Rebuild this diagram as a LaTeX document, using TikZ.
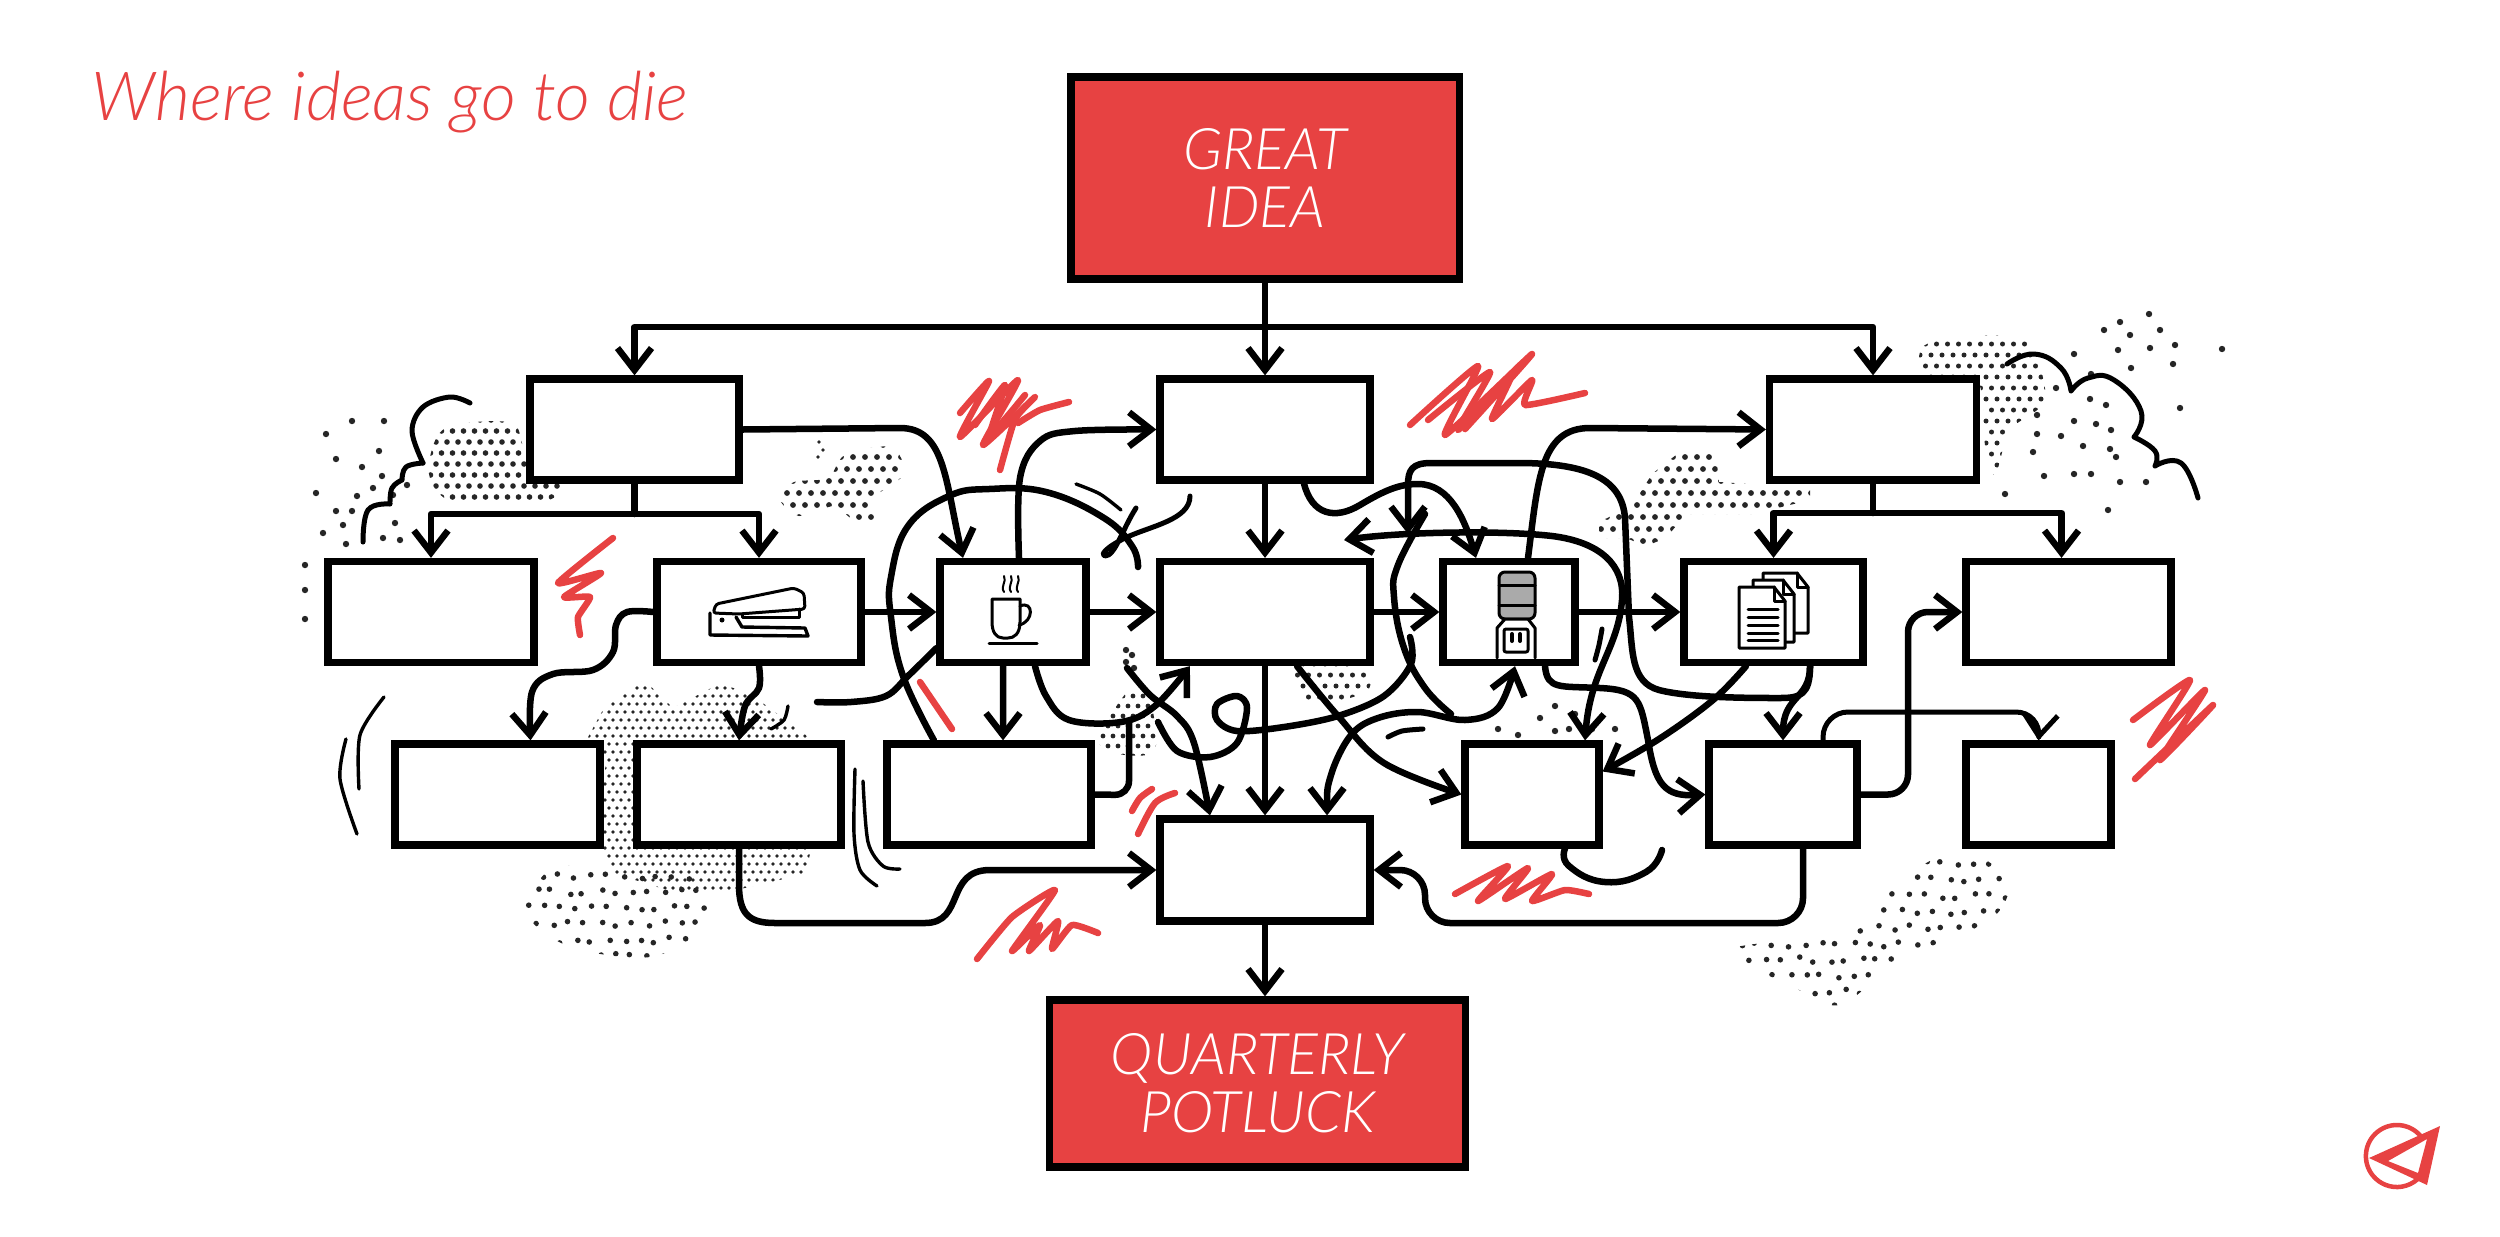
\documentclass[tikz,border=0pt]{standalone}
\usepackage{xcolor}
\usepackage{fontspec}
\setmainfont{Lato}[UprightFont=* Light,ItalicFont=* Light Italic,BoldFont=*]
\usepackage{tikz}
\usetikzlibrary{arrows.meta, calc}
\definecolor{IdeaRed}{RGB}{231, 66, 66}
\definecolor{CoolerGray}{RGB}{170, 170, 170}
\newcommand{\halftone}[7]{%
  \pgfmathtruncatemacro\nx{(#2-#1)/#5}%
  \pgfmathtruncatemacro\ny{(#4-#3)/#5}%
  \foreach \gi in {0,...,\nx} \foreach \gj in {0,...,\ny} {
    \pgfmathsetmacro\gx{#1+\gi*#5+mod(\gj,2)*#5/2+rand*#7}
    \pgfmathsetmacro\gy{#3+\gj*#5+rand*#7}
    \fill[black!85] (\gx,\gy) circle[radius=#6];
  }
}
\tikzset{
  x=0.01cm, y=-0.01cm,
  flowbox/.style={draw=black, fill=white, line width=0.072cm, minimum height=1.01cm, inner sep=0pt},
  redbox/.style={draw=black, fill=IdeaRed, line width=0.072cm, inner sep=0pt, align=center,
    text=white, font=\fontsize{16.3}{16.6}\selectfont\itshape},
  plainlink/.style={draw=black, line width=0.065cm, line cap=round, line join=round},
  link/.style={plainlink, -{Straight Barb[length=2.2mm,width=3.4mm]}},
  twolink/.style={plainlink, {Straight Barb[length=2.2mm,width=3.4mm]}-{Straight Barb[length=2.2mm,width=3.4mm]}},
  hairline/.style={draw=black, line width=0.034cm, line cap=round, line join=round},
  scribble/.style={draw=IdeaRed, line width=0.065cm, line cap=round, line join=round},
  icon/.style={draw=black, line width=0.03cm, line join=round, line cap=round},
}
\begin{document}
\begin{tikzpicture}
  \useasboundingbox (0,0) rectangle (2500,1236);
  \pgfmathsetseed{4217}

  \begin{scope}
    \clip plot[smooth cycle] coordinates {(444,429) (512,423) (527,459) (561,486) (541,502) (455,503) (429,474)};
    \halftone{425}{565}{420}{505}{11}{2.8}{0}
  \end{scope}
  \begin{scope}
    \clip plot[smooth cycle] coordinates {(845,455) (891,447) (904,474) (874,498) (877,524) (851,518) (834,506) (799,516) (779,498) (794,482) (828,478)};
    \halftone{775}{905}{445}{526}{12}{2.9}{0}
  \end{scope}
  \begin{scope}
    \clip (644,680) -- (673,708) -- (719,684) -- (748,692) -- (811,739) -- (811,850) -- (805,874) -- (736,890) -- (667,890) -- (616,874) -- (598,846) -- (606,760) -- (587,739) -- (604,708) -- cycle;
    \halftone{585}{815}{680}{892}{8}{1.8}{0}
  \end{scope}
  \begin{scope}
    \clip plot[smooth cycle] coordinates {(526,905) (550,870) (600,866) (700,880) (705,930) (650,957) (580,950) (540,930)};
    \halftone{520}{710}{860}{960}{16}{2.8}{3}
  \end{scope}
  \begin{scope}
    \clip plot[smooth cycle] coordinates {(1728,950) (1850,930) (1900,880) (1960,850) (2008,880) (1990,920) (1900,960) (1840,1005) (1790,985)};
    \halftone{1725}{2010}{848}{1008}{16}{2.8}{3}
  \end{scope}
  \begin{scope}
    \clip plot[smooth cycle] coordinates {(1108,720) (1130,690) (1150,700) (1155,750) (1125,755) (1100,745)};
    \halftone{1098}{1158}{686}{757}{10}{2.4}{0}
  \end{scope}
  \begin{scope}
    \clip plot[smooth cycle] coordinates {(1296,668) (1362,668) (1368,690) (1330,703) (1305,700)};
    \halftone{1292}{1370}{664}{705}{11}{2.5}{0}
  \end{scope}
  \begin{scope}
    \clip (1686,447) -- (1716,455) -- (1719,482) -- (1810,488) -- (1810,500) -- (1753,514) -- (1686,514) -- (1666,538) -- (1646,546) -- (1626,538) -- (1599,538) -- (1599,522) -- (1632,506) -- (1652,474) -- cycle;
    \halftone{1595}{1815}{445}{548}{12}{2.9}{0}
  \end{scope}
  \begin{scope}
    \clip plot[smooth cycle] coordinates {(1925,345) (1990,335) (2030,345) (2045,400) (2010,430) (1995,475) (1985,445) (1977,380) (1925,375)};
    \halftone{1920}{2050}{333}{478}{11}{2.5}{0}
  \end{scope}
  \foreach \dx/\dy in {352/421,384/421,326/434,379/451,336/459,362/467,382/476,316/493,357/496,373/488,407/485,393/495,336/511,352/511,343/525,395/523,323/533,383/538,400/540,346/544,305/565,305/590,305/619,
    2074/354,2118/350,2131/368,2173/364,2091/374,2056/388,2090/399,2106/405,2180/408,2037/415,2074/421,2096/424,2111/430,2037/434,2061/436,2083/446,2110/449,2033/452,2116/457,2044/476,2074/474,2091/474,2120/482,2146/482,2005/494,2108/510,
    2149/314,2120/322,2104/330,2160/330,2130/335,2222/349,2175/345,2150/348,
    1498/729,1518/735,1540/718,1555/706,1555/731,1569/729,1575/714,1579/725,1592/729,1615/729,
    1126/650,1132/655,1126/662,1134/668}
    \fill[black!85] (\dx,\dy) circle[radius=3.2];
  \foreach \dx/\dy in {819/442,823/450,818/457}
    \fill[black!85] (\dx,\dy) circle[radius=1.8];

  \draw[plainlink, line width=0.05cm] plot[smooth,tension=.6] coordinates {(470,403) (450,397) (423,407) (412,431) (423,463)};
  \draw[plainlink, line width=0.05cm] plot[smooth,tension=.7] coordinates {(423,463) (406,467) (402,480)} plot[smooth,tension=.7] coordinates {(402,480) (392,488) (390,504)} plot[smooth,tension=.7] coordinates {(390,504) (368,510) (363,542)};
  \draw[plainlink, line width=0.05cm] plot[smooth,tension=.8] coordinates {(2007,364) (2034,354) (2061,368) (2071,391)} plot[smooth,tension=.8] coordinates {(2071,391) (2088,378) (2114,380) (2141,411) (2134,437)} plot[smooth,tension=.8] coordinates {(2134,437) (2155,451) (2155,466)} plot[smooth,tension=.8] coordinates {(2155,466) (2181,463) (2198,498)};

  \node[redbox, minimum width=3.88cm, minimum height=2.02cm] (great) at (1265,178) {GREAT\\IDEA};
  \node[redbox, minimum width=4.15cm, minimum height=1.67cm] (potluck) at (1257.5,1083.5) {QUARTERLY\\POTLUCK};

  \node[flowbox, minimum width=2.09cm] (topLeft) at (634.5,429.5) {};
  \node[flowbox, minimum width=2.10cm] (topMid) at (1265,429.5) {};
  \node[flowbox, minimum width=2.07cm] (topRight) at (1873,429.5) {};

  \node[flowbox, minimum width=2.06cm] (midA) at (431,612) {};
  \node[flowbox, minimum width=2.04cm] (stapler) at (759,612) {};
  \node[flowbox, minimum width=1.46cm] (coffee) at (1013,612) {};
  \node[flowbox, minimum width=2.10cm] (midCore) at (1265,612) {};
  \node[flowbox, minimum width=1.32cm] (cooler) at (1509,612) {};
  \node[flowbox, minimum width=1.79cm] (papers) at (1773.5,612) {};
  \node[flowbox, minimum width=2.05cm] (midG) at (2068.5,612) {};

  \node[flowbox, minimum width=2.05cm] (lowA) at (497.5,794.5) {};
  \node[flowbox, minimum width=2.04cm] (lowB) at (739,794.5) {};
  \node[flowbox, minimum width=2.04cm] (lowC) at (989,794.5) {};
  \node[flowbox, minimum width=1.34cm] (lowD) at (1532,794.5) {};
  \node[flowbox, minimum width=1.48cm] (lowE) at (1783,794.5) {};
  \node[flowbox, minimum width=1.45cm] (lowF) at (2038.5,794.5) {};

  \node[flowbox, minimum width=2.10cm, minimum height=1.02cm] (gather) at (1265,870) {};

  \node[anchor=base west, inner sep=0pt, text=IdeaRed, font=\fontsize{19.3}{22}\selectfont\itshape] (motto) at (91,120) {Where ideas go to die};

  % bus lines from the top row
  \coordinate (busTop) at (1265,327);
  \draw[link] (great.south) -- (topMid.north);
  \draw[link] (busTop) -| (topLeft.north);
  \draw[link] (busTop) -| (topRight.north);
  \coordinate (busLeft) at (634.5,514);
  \draw[plainlink] (topLeft.south) -- (busLeft);
  \draw[link] (busLeft) -| (midA.north);
  \draw[link] (busLeft) -| (stapler.north);
  \coordinate (busRight) at (1873,513);
  \draw[plainlink] (topRight.south) -- (busRight);
  \draw[link] (busRight) -| (papers.north);
  \draw[link] (busRight) -| ([xshift=-.07cm]midG.north);

  \draw[link] (topMid.south) -- (midCore.north);
  \draw[link] (stapler.east) -- (coffee.west);
  \draw[link] (coffee.east) -- (midCore.west);
  \draw[link] (midCore.east) -- (cooler.west);
  \draw[link] (cooler.east) -- (papers.west);
  \draw[link] (midCore.south) -- (gather.north);
  \draw[link] (gather.south) -- (gather.south |- potluck.north);
  \draw[link] ([xshift=-.1cm]coffee.south) -- ([xshift=.14cm]lowC.north);

  \draw[link] (topLeft.east) -- (900,428) .. controls (945,428) and (945,480) .. ([xshift=-.5cm]coffee.north);
  \draw[link] plot[smooth,tension=.6] coordinates {(stapler.west) (627,612) (616,625) (613,652) (593,670) (553,674) (532,692) ([xshift=.33cm]lowA.north)};
  \draw[link] plot[smooth,tension=.6] coordinates {(stapler.south) (759,688) (745,706) (lowB.north)};
  \draw[link] (lowB.south) -- (739,885) .. controls (739,915) and (750,923) .. (775,923) -- (925,923) .. controls (965,923) and (945,870) .. (990,870) -- (gather.west);
  \draw[link] plot[smooth,tension=.6] coordinates {([xshift=.06cm]coffee.north) (1020,478) (1040,441) (1075,431) (topMid.west)};
  \draw[plainlink] plot[smooth,tension=.7] coordinates {([xshift=-.55cm]lowC.north) (903,676) (891,617) (891,577) (908,526) (949,496) (989,489) (1046,492) (1104,518) (1132,546) (1138,567)};
  \draw[plainlink] plot[smooth,tension=.6] coordinates {([yshift=.18cm]coffee.south west) (908,676) (886,696) (851,702) (817,702)};
  \draw[link] plot[smooth,tension=.6] coordinates {([xshift=.22cm]coffee.south) (1046,696) (1069,720) (1121,722) (1155,706) ([xshift=-.75cm]midCore.south)};
  \draw[plainlink, rounded corners=.14cm] (lowC.east) -- (1129,795) -- (1129,722);

  \draw[plainlink, line width=0.05cm] (1190,496) .. controls (1190,520) and (1150,526) .. (1125,538) .. controls (1105,548) and (1100,555) .. (1105,556) .. controls (1115,556) and (1122,530) .. (1136,508);
  \draw[hairline] plot[smooth] coordinates {(1076,484) (1100,494) (1121,510)};
  \draw[hairline] plot[smooth] coordinates {(384,697) (360,735) (359,789)};
  \draw[hairline] plot[smooth] coordinates {(346,739) (340,779) (357,834)};
  \draw[hairline] plot[smooth] coordinates {(855,769) (854,834) (860,870) (877,886)};
  \draw[hairline] plot[smooth] coordinates {(863,781) (868,842) (883,866) (900,869)};
  \draw[hairline] plot[smooth] coordinates {(771,729) (784,720) (788,706)};
  \draw[hairline, line width=0.05cm] plot[smooth] coordinates {(1388,737) (1402,731) (1423,729)};
  \draw[hairline, line width=0.05cm] plot[smooth] coordinates {(1602,629) (1599,645) (1595,660)};

  \draw[link] ([xshift=.39cm]topMid.south) .. controls (1312,515) and (1335,520) .. (1360,505) .. controls (1385,490) and (1400,484) .. (1418,484) .. controls (1450,484) and (1465,520) .. ([xshift=-.33cm]cooler.north);
  \draw[link] ([xshift=.365cm]papers.south) .. controls (1810,695) and (1800,698) .. (1780,698) .. controls (1750,698) and (1690,698) .. (1659,690) .. controls (1630,682) and (1633,650) .. (1629,617) -- (1625,518) .. controls (1622,480) and (1590,463) .. (1518,463) -- (1431,463) .. controls (1412,463) and (1408,470) .. (1408,485) -- (1408,534);
  \draw[link] ([xshift=.365cm]papers.south) .. controls (1810,700) and (1783,695) .. (lowE.north);
  \coordinate (backTip) at (1344,540);
  \draw[twolink] (backTip) .. controls (1400,532) and (1500,530) .. (1552,536) .. controls (1600,542) and (1625,565) .. (1622,600) .. controls (1618,650) and (1590,670) .. ([xshift=.53cm]lowD.north);
  \draw[link] ([xshift=.19cm]cooler.north) .. controls (1538,480) and (1540,428) .. (1590,428) -- (topRight.west);
  \draw[plainlink] plot[smooth,tension=.7] coordinates {(1425,514) (1398,565) (1394,597) (1404,648) (1425,688) (1451,714)};
  \draw[twolink] plot[smooth,tension=.6] coordinates {([xshift=.62cm]gather.north) (1331,775) (1351,735) (1378,718) (1418,712) (1465,720) (1498,708) ([xshift=.06cm]cooler.south)};
  \draw[plainlink] plot[smooth,tension=.55] coordinates {(1410,637) (1411,664) (1384,696) (1338,716) (1284,727) (1237,731) (1217,720) (1217,704) (1237,696) (1247,708) (1237,743) (1210,757) (1177,751) (1158,722)};
  \draw[link] plot[smooth,tension=.6] coordinates {(1127,668) (1150,695) (1177,716) (1194,743) ([xshift=-.55cm]gather.north)};
  \draw[link] plot[smooth,tension=.6] coordinates {([xshift=.32cm]midCore.south) (1338,716) (1384,763) (lowD.west)};
  \draw[link] ([xshift=.36cm]cooler.south) .. controls (1547,690) and (1560,686) .. (1600,688) .. controls (1640,690) and (1640,700) .. (1648,740) .. controls (1655,785) and (1665,797) .. (lowE.west);
  \draw[link] plot[smooth,tension=.6] coordinates {([xshift=-.275cm]papers.south) (1713,700) (1659,739) ([yshift=.23cm]lowD.east)};
  \draw[plainlink] plot[smooth,tension=.8] coordinates {([xshift=.33cm]lowD.south) (1569,866) (1605,882) (1646,872) (1662,850)};
  \draw[link, rounded corners=.25cm] ([xshift=.2cm]lowE.south) |- (1425,923) |- (gather.east);
  \draw[link, rounded corners=.2cm] (lowE.east) -| (1908,612) -- (midG.west);
  \draw[link, rounded corners=.25cm, line width=0.05cm] ([xshift=.4cm]lowE.north) |- (2041,712) -- (lowF.north);

  \draw[scribble] plot[smooth,tension=.3] coordinates {(960,413) (989,381) (960,437) (1018,380) (983,445) (1035,397) (1015,419) (1000,470)};
  \draw[scribble] plot[smooth,tension=.3] coordinates {(975,425) (1005,385) (990,435) (1025,395)};
  \draw[scribble] plot[smooth,tension=.3] coordinates {(1018,423) (1040,410) (1069,402)};
  \draw[scribble] plot[smooth,tension=.3] coordinates {(613,538) (558,583) (601,573) (564,597) (590,597) (578,617) (580,635)};
  \draw[scribble] (920,682) -- (952,729);
  \draw[scribble] plot[smooth] coordinates {(1132,811) (1140,798) (1152,789)};
  \draw[scribble] plot[smooth] coordinates {(1138,834) (1155,803) (1175,793)};
  \draw[scribble] plot[smooth,tension=.3] coordinates {(977,959) (1012,917) (1055,890) (1012,951) (1040,925) (1029,951) (1058,921) (1052,949) (1072,925) (1098,933)};
  \draw[scribble] plot[smooth,tension=.3] coordinates {(1410,425) (1478,366) (1445,435) (1532,354) (1465,429) (1512,374) (1492,419) (1532,380) (1525,405) (1585,393)};
  \draw[scribble] plot[smooth,tension=.3] coordinates {(1428,420) (1490,372) (1458,430) (1520,365)};
  \draw[scribble] plot[smooth,tension=.3] coordinates {(1455,894) (1508,866) (1478,901) (1528,868) (1505,899) (1552,874) (1532,901) (1565,890) (1589,894)};
  \draw[scribble] plot[smooth,tension=.3] coordinates {(2133,720) (2190,680) (2150,745) (2205,690) (2160,760) (2213,705) (2135,779)};

  % icons
  \draw[icon, rounded corners=.03cm] (713,613) -- (716,604) -- (794,588) -- (804,593) -- (805,609) -- (739,614) -- cycle;
  \draw[icon] (742,615) -- (742,617) -- (799,617) -- (799,609);
  \draw[icon, line width=0.034cm] (710,613) -- (710,635) -- (808,636) -- (805,628) -- (742,627) -- (736,617);
  \fill (722,620) circle[radius=2.5];

  \draw[icon] (992,599) -- (1020,599) -- (1020,622) .. controls (1020,634) and (1014,638) .. (1008,638) -- (1003,638) .. controls (996,638) and (992,632) .. (992,622) -- cycle;
  \draw[icon] (1020,606) .. controls (1034,600) and (1034,622) .. (1019,625);
  \draw[icon] (989,643) -- (1037,643);
  \foreach \sx in {1004,1011,1018}
    \draw[icon, line width=0.02cm] (\sx,592) .. controls (\sx-4,586) and (\sx+3,582) .. (\sx,576);

  \draw[icon, fill=CoolerGray, rounded corners=.06cm] (1499,572) rectangle (1535,619);
  \draw[icon] (1499,585) -- (1535,585) (1499,605) -- (1535,605);
  \draw[icon, fill=white] (1497,658) -- (1497,628) -- (1505,619) -- (1528,619) -- (1535,628) -- (1535,658);
  \draw[icon, rounded corners=.02cm] (1504,629) rectangle (1528,652);
  \draw[icon, line width=0.04cm] (1512,634) -- (1512,641) (1520,634) -- (1520,641);

  \foreach \pa/\pb/\pc/\pd in {1763/573/1808/633, 1753/580/1794/642, 1739/587/1785/648} {
    \draw[icon, fill=white] (\pa,\pb) -- (\pc-11,\pb) -- (\pc,\pb+14) -- (\pc,\pd) -- (\pa,\pd) -- cycle;
    \draw[icon] (\pc-11,\pb) -- (\pc-11,\pb+14) -- (\pc,\pb+14);
  }
  \foreach \ly in {609,617,625,633,640}
    \draw[icon, line width=0.03cm] (1748,\ly) -- (1778,\ly);

  % logo
  \draw[draw=IdeaRed, line width=0.045cm] (2421,1136.5) arc[start angle=39,end angle=312,radius=.31cm];
  \fill[IdeaRed, even odd rule] (2440,1126) -- (2369,1158) -- (2427,1185) -- cycle (2427,1139) -- (2388,1161) -- (2418,1173) -- cycle;
\end{tikzpicture}
\end{document}
